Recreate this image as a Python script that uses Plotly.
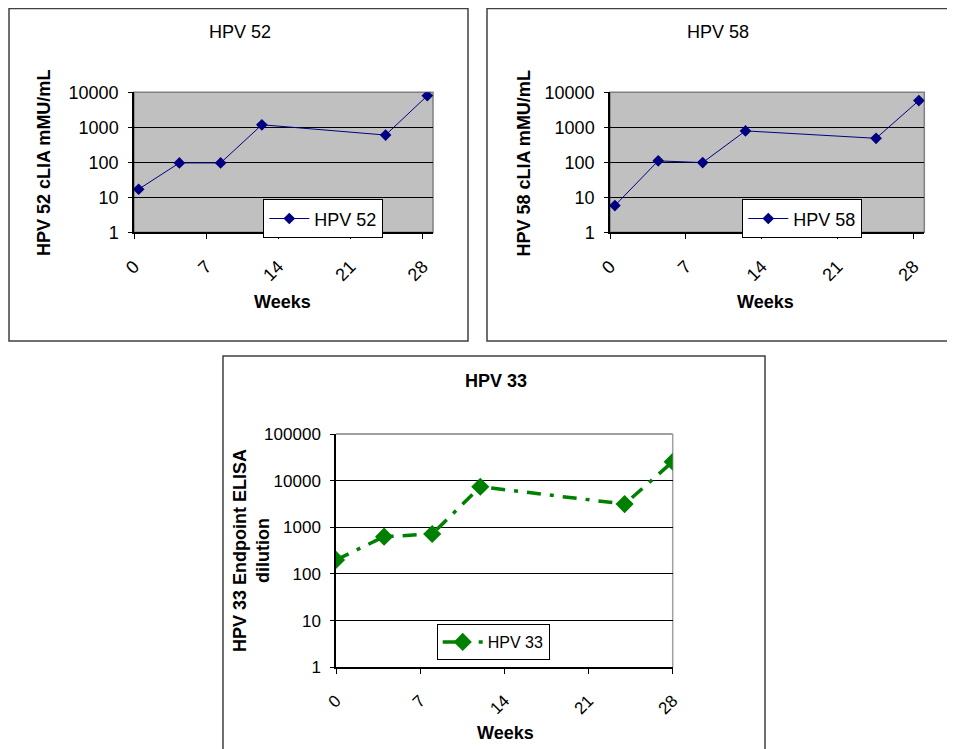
import plotly.graph_objects as go

# ---- data ----
weeks_52 = [0.45, 4.4, 8.4, 12.4, 24.4, 28.45]
hpv52 = [17, 96, 96, 1180, 600, 8000]
weeks_58 = [0.45, 4.45, 8.55, 12.5, 24.55, 28.5]
hpv58 = [5.8, 110, 98, 790, 485, 5800]
weeks_33 = [0, 4, 8, 12, 24, 28]
hpv33 = [200, 630, 720, 7400, 3150, 25400]
x_ticks = [0, 7, 14, 21, 28]
y_ticks4 = [1, 10, 100, 1000, 10000]
y_ticks5 = [1, 10, 100, 1000, 10000, 100000]

W, H = 955, 749
OFF = 8  # page body margin
FONT = "Liberation Sans, Arial, sans-serif"

def px(x):
    return (x - OFF) / W

def py(y):
    return 1 - (y - OFF) / H

fig = go.Figure()

navy = "#000080"
green = "#008000"

fig.add_trace(go.Scatter(x=weeks_52, y=hpv52, name="HPV 52", mode="lines+markers",
                         line=dict(color=navy, width=1), marker=dict(symbol="diamond", size=9, color=navy),
                         xaxis="x", yaxis="y", legend="legend"))
fig.add_trace(go.Scatter(x=weeks_58, y=hpv58, name="HPV 58", mode="lines+markers",
                         line=dict(color=navy, width=1), marker=dict(symbol="diamond", size=9, color=navy),
                         xaxis="x2", yaxis="y2", legend="legend2"))
fig.add_trace(go.Scatter(x=weeks_33, y=hpv33, name="HPV 33", mode="lines+markers",
                         line=dict(color=green, width=3.5, dash="14px,9px,4px,9px"),
                         marker=dict(symbol="diamond", size=14, color=green),
                         xaxis="x3", yaxis="y3", legend="legend3"))

def xax(domain, rng, anchor, fsize):
    return dict(domain=domain, range=rng, anchor=anchor, tickmode="array", tickvals=x_ticks,
                ticktext=[str(t) for t in x_ticks], tickangle=-45, ticks="outside", ticklen=5,
                tickcolor="black", showline=True, linecolor="black", linewidth=1.5,
                showgrid=False, zeroline=False, ticklabelstandoff=10, automargin=False,
                tickfont=dict(family=FONT, size=fsize, color="black"))

def yax(domain, rng, anchor, vals, fsize):
    return dict(domain=domain, type="log", range=rng, anchor=anchor, tickmode="array",
                tickvals=vals, ticktext=[str(v) for v in vals], ticks="outside", ticklen=4,
                tickcolor="black", showline=True, linecolor="black", linewidth=1.5,
                showgrid=True, gridcolor="black", gridwidth=1.2, zeroline=False, automargin=False,
                ticklabelstandoff=6,
                tickfont=dict(family=FONT, size=fsize, color="black"))

d1x = [px(134), px(433)]
d2x = [px(610), px(924.3)]
d12y = [py(232.3), py(92.3)]
d3x = [px(336), px(672.7)]
d3y = [py(667.3), py(434)]

fig.update_layout(
    width=W, height=H, margin=dict(l=0, r=0, t=0, b=0, pad=0, autoexpand=False),
    paper_bgcolor="white", plot_bgcolor="white",
    font=dict(family=FONT, color="black"),
    xaxis=xax(d1x, [0, 29], "y", 18),
    yaxis=yax(d12y, [0, 4], "x", y_ticks4, 18),
    xaxis2=xax(d2x, [0, 29], "y2", 18),
    yaxis2=yax(d12y, [0, 4], "x2", y_ticks4, 18),
    xaxis3=xax(d3x, [0, 28], "y3", 17),
    yaxis3=yax(d3y, [0, 5], "x3", y_ticks5, 17),
    legend=dict(x=px(263.3), y=py(199.3), xanchor="left", yanchor="top", bgcolor="white",
                bordercolor="black", borderwidth=1, font=dict(family=FONT, size=18),
                itemwidth=40),
    legend2=dict(x=px(742.3), y=py(199.3), xanchor="left", yanchor="top", bgcolor="white",
                 bordercolor="black", borderwidth=1, font=dict(family=FONT, size=18),
                 itemwidth=40),
    legend3=dict(x=px(436.7), y=py(624), xanchor="left", yanchor="top", bgcolor="white",
                 bordercolor="black", borderwidth=1, font=dict(family=FONT, size=16),
                 itemwidth=40),
    showlegend=True,
)

shapes = []
# grey plot backgrounds for panels 1 and 2
for xr, yr in [("x domain", "y domain"), ("x2 domain", "y2 domain")]:
    shapes.append(dict(type="rect", xref=xr, yref=yr, x0=0, x1=1, y0=0, y1=1,
                       fillcolor="#c0c0c0", line=dict(color="#808080", width=1.5), layer="below"))
# panel 3 plot frame (grey top/right)
shapes.append(dict(type="line", xref="x3 domain", yref="y3 domain", x0=0, x1=1, y0=1, y1=1,
                   line=dict(color="#a0a0a0", width=1.8), layer="above"))
shapes.append(dict(type="line", xref="x3 domain", yref="y3 domain", x0=1, x1=1, y0=0, y1=1,
                   line=dict(color="#a0a0a0", width=1.5), layer="below"))
# outer panel borders
for x0, y0, x1, y1 in [(9, 8.5, 468, 341), (487, 8.5, 950, 341), (223, 356, 765, 770)]:
    shapes.append(dict(type="rect", xref="paper", yref="paper", x0=px(x0), x1=px(x1),
                       y0=py(y1), y1=py(y0), line=dict(color="#404040", width=1.5),
                       fillcolor="rgba(0,0,0,0)"))
fig.update_layout(shapes=shapes)

ann = []
def text(x, y, t, size=18, bold=False, angle=0):
    ann.append(dict(x=px(x), y=py(y), xref="paper", yref="paper", text=(f"<b>{t}</b>" if bold else t),
                    showarrow=False, textangle=angle, xanchor="center", yanchor="middle",
                    font=dict(family=FONT, size=size, color="black")))

text(240, 31.7, "HPV 52")
text(718, 31.7, "HPV 58")
text(496, 381, "HPV 33", bold=True)
text(43.5, 163.5, "HPV 52 cLIA mMU/mL", bold=True, angle=-90)
text(523, 163.5, "HPV 58 cLIA mMU/mL", bold=True, angle=-90)
text(251.5, 550.5, "HPV 33 Endpoint ELISA<br>dilution", bold=True, angle=-90)
text(282, 301.7, "Weeks", bold=True)
text(765.8, 301.7, "Weeks", bold=True)
text(505.5, 732.7, "Weeks", bold=True)
fig.update_layout(annotations=ann)

fig.write_html("out.html")
